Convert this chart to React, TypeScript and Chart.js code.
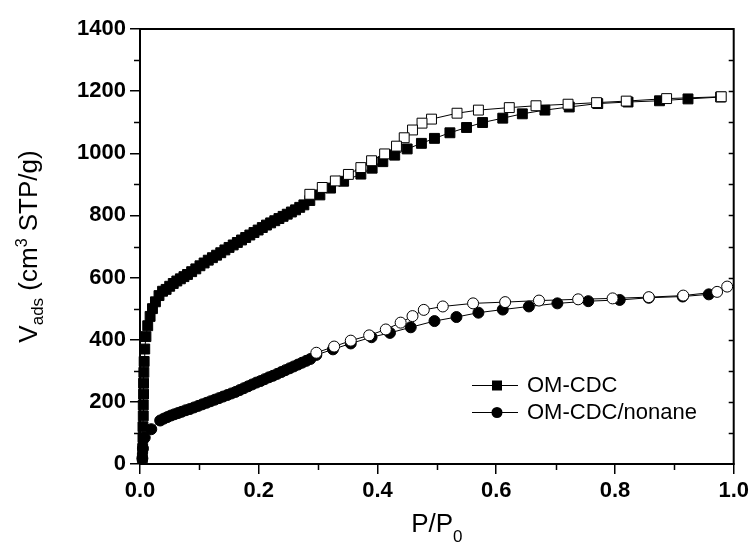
import React, { useEffect, useRef } from "react";
import { Chart, registerables } from "chart.js";

Chart.register(...registerables);

// ---- data (P/P0 and adsorbed volume, cm3 STP/g) ----
const omcdcAdsP = [0.004, 0.0045, 0.005, 0.005, 0.0055, 0.0055, 0.006, 0.006, 0.0065, 0.007, 0.008, 0.010, 0.013, 0.017, 0.021, 0.026, 0.032, 0.038, 0.044, 0.050, 0.056, 0.062, 0.068, 0.074, 0.080, 0.087, 0.094, 0.101, 0.108, 0.115, 0.122, 0.129, 0.136, 0.143, 0.150, 0.157, 0.164, 0.171, 0.178, 0.185, 0.192, 0.199, 0.206, 0.213, 0.220, 0.227, 0.234, 0.241, 0.248, 0.255, 0.262, 0.269, 0.276, 0.286, 0.303, 0.321, 0.343, 0.372, 0.391, 0.409, 0.429, 0.450, 0.474, 0.496, 0.522, 0.550, 0.577, 0.611, 0.644, 0.682, 0.723, 0.771, 0.822, 0.875, 0.923, 0.978];
const omcdcAdsV = [20, 50, 85, 120, 155, 190, 225, 260, 295, 330, 370, 410, 445, 475, 500, 522, 542, 556, 562, 572, 581, 589, 596, 603, 610, 619, 628, 638, 647, 656, 664, 672, 680, 689, 697, 705, 713, 721, 729, 737, 745, 753, 761, 769, 776, 783, 790, 797, 804, 811, 818, 826, 834, 848, 866, 888, 910, 933, 952, 973, 994, 1014, 1032, 1048, 1066, 1083, 1099, 1113, 1127, 1139, 1149, 1160, 1165, 1169, 1175, 1181];

const omcdcDesP = [0.979, 0.887, 0.819, 0.769, 0.721, 0.667, 0.622, 0.570, 0.534, 0.491, 0.475, 0.459, 0.445, 0.432, 0.412, 0.390, 0.372, 0.351, 0.329, 0.307, 0.286];
const omcdcDesV = [1182, 1176, 1168, 1163, 1158, 1153, 1147, 1139, 1129, 1110, 1097, 1075, 1050, 1023, 998, 976, 954, 932, 911, 890, 868];

const nonaneAdsP = [0.004, 0.005, 0.008, 0.019, 0.034, 0.040, 0.046, 0.052, 0.058, 0.064, 0.070, 0.077, 0.084, 0.091, 0.098, 0.105, 0.112, 0.119, 0.126, 0.133, 0.140, 0.147, 0.154, 0.161, 0.168, 0.175, 0.182, 0.189, 0.196, 0.203, 0.210, 0.217, 0.224, 0.231, 0.238, 0.245, 0.252, 0.259, 0.266, 0.273, 0.280, 0.287, 0.297, 0.325, 0.355, 0.390, 0.421, 0.456, 0.496, 0.533, 0.570, 0.611, 0.655, 0.703, 0.755, 0.808, 0.857, 0.914, 0.958];
const nonaneAdsV = [18, 50, 85, 112, 140, 146, 151, 156, 160, 164, 168, 173, 177, 182, 187, 192, 197, 202, 207, 212, 217, 222, 227, 232, 238, 244, 250, 256, 262, 267, 273, 279, 284, 290, 296, 302, 308, 314, 320, 326, 332, 338, 351, 369, 388, 408, 422, 440, 460, 473, 487, 497, 507, 517, 524, 528, 535, 539, 546];

const nonaneDesP = [0.989, 0.972, 0.915, 0.857, 0.796, 0.738, 0.672, 0.615, 0.561, 0.510, 0.478, 0.459, 0.439, 0.414, 0.386, 0.355, 0.327, 0.297];
const nonaneDesV = [571, 554, 542, 537, 533, 530, 526, 521, 517, 507, 496, 476, 455, 433, 414, 397, 378, 358];

const xMajorStep = 0.2;
const yMajorStep = 200;
const xMinorTicks = [0.1, 0.3, 0.5, 0.7, 0.9];
const yMinorTicks = [100, 300, 500, 700, 900, 1100, 1300];
const yRightTicks = [100, 200, 300, 400, 500, 600, 700, 800, 900, 1000, 1100, 1200, 1300];

const legendLabels = ["OM-CDC", "OM-CDC/nonane"];

const FONT = '"Liberation Sans", Arial, Helvetica, sans-serif';

const zip = (xs: number[], ys: number[]) => xs.map((x, i) => ({ x, y: ys[i] }));

type Seg = { t: string; size: number; dy: number };

function drawSegs(ctx: CanvasRenderingContext2D, segs: Seg[], cx: number, baseY: number) {
  let total = 0;
  for (const s of segs) {
    ctx.font = `${s.size}px ${FONT}`;
    total += ctx.measureText(s.t).width;
  }
  let x = cx - total / 2;
  ctx.textAlign = "left";
  ctx.textBaseline = "alphabetic";
  for (const s of segs) {
    ctx.font = `${s.size}px ${FONT}`;
    ctx.fillText(s.t, x, baseY + s.dy);
    x += ctx.measureText(s.t).width;
  }
}

const decorPlugin = {
  id: "decor",
  afterDraw(chart: any) {
    const { ctx, chartArea: a, scales } = chart;
    const xs = scales.x;
    const ys = scales.y;
    ctx.save();
    ctx.strokeStyle = "#000";
    ctx.fillStyle = "#000";
    // top and right frame
    ctx.lineWidth = 2;
    ctx.beginPath();
    ctx.moveTo(a.left - 1, a.top);
    ctx.lineTo(a.right, a.top);
    ctx.lineTo(a.right, a.bottom + 1);
    ctx.stroke();
    // minor ticks
    ctx.lineWidth = 1.5;
    ctx.beginPath();
    for (const v of xMinorTicks) {
      const px = Math.round(xs.getPixelForValue(v)) + 0.5;
      ctx.moveTo(px, a.bottom);
      ctx.lineTo(px, a.bottom + 6);
    }
    for (const v of yMinorTicks) {
      const py = Math.round(ys.getPixelForValue(v)) + 0.5;
      ctx.moveTo(a.left, py);
      ctx.lineTo(a.left - 6, py);
    }
    for (const v of yRightTicks) {
      const py = Math.round(ys.getPixelForValue(v)) + 0.5;
      ctx.moveTo(a.right, py);
      ctx.lineTo(a.right - 5, py);
    }
    ctx.stroke();

    // x title: P/P0
    drawSegs(ctx, [
      { t: "P/P", size: 26, dy: 0 },
      { t: "0", size: 17, dy: 10 },
    ], (a.left + a.right) / 2, 532);

    // y title
    ctx.save();
    ctx.translate(27, (a.top + a.bottom) / 2);
    ctx.rotate(-Math.PI / 2);
    drawSegs(ctx, [
      { t: "V", size: 26, dy: 0 },
      { t: "ads", size: 17, dy: 6 },
      { t: " (cm", size: 26, dy: 0 },
      { t: "3", size: 16, dy: -10 },
      { t: " STP/g)", size: 26, dy: 0 },
    ], 0, 10);
    ctx.restore();

    // legend
    const lx0 = 472, lx1 = 518, mx = 497, tx = 527;
    const rows = [385, 412];
    ctx.lineWidth = 1;
    rows.forEach((ry, i) => {
      ctx.beginPath();
      ctx.moveTo(lx0, ry + 0.5);
      ctx.lineTo(lx1, ry + 0.5);
      ctx.stroke();
      if (i === 0) {
        ctx.fillRect(mx - 5, ry - 4.5, 10, 10);
      } else {
        ctx.beginPath();
        ctx.arc(mx, ry + 0.5, 5.5, 0, Math.PI * 2);
        ctx.fill();
      }
      ctx.font = `22px ${FONT}`;
      ctx.textAlign = "left";
      ctx.textBaseline = "middle";
      ctx.fillText(legendLabels[i], tx, ry + 1);
    });
    ctx.restore();
  },
};

export default function App() {
  const ref = useRef<HTMLCanvasElement>(null);
  useEffect(() => {
    document.body.style.margin = "0";
    const common = {
      showLine: true,
      borderColor: "#000",
      borderWidth: 1,
      pointBorderColor: "#000",
      pointBorderWidth: 1,
      tension: 0,
      clip: false as any,
    };
    const chart = new Chart(ref.current as HTMLCanvasElement, {
      type: "scatter",
      data: {
        datasets: [
          { ...common, label: "OM-CDC desorption", data: zip(omcdcDesP, omcdcDesV), pointStyle: "rect", pointRadius: 7, pointBackgroundColor: "#fff", order: 0 },
          { ...common, label: "OM-CDC/nonane desorption", data: zip(nonaneDesP, nonaneDesV), pointStyle: "circle", pointRadius: 5.5, pointBackgroundColor: "#fff", order: 0 },
          { ...common, label: legendLabels[0], data: zip(omcdcAdsP, omcdcAdsV), pointStyle: "rect", pointRadius: 7, pointBackgroundColor: "#000", order: 1 },
          { ...common, label: legendLabels[1], data: zip(nonaneAdsP, nonaneAdsV), pointStyle: "circle", pointRadius: 5.5, pointBackgroundColor: "#000", order: 1 },
        ] as any,
      },
      options: {
        responsive: false,
        animation: false,
        devicePixelRatio: 1,
        layout: { padding: { top: 29, right: 19, left: 0, bottom: 0 } },
        plugins: { legend: { display: false }, tooltip: { enabled: false } },
        scales: {
          x: {
            type: "linear",
            min: 0,
            max: 1,
            afterFit: (s: any) => { s.height = 84; },
            ticks: {
              stepSize: xMajorStep,
              callback: (v: any) => Number(v).toFixed(1),
              color: "#000",
              font: { family: FONT, size: 22, weight: "bold" },
              padding: 4,
              maxRotation: 0,
            },
            grid: { drawOnChartArea: false, color: "#000", lineWidth: 1.5, tickLength: 10 },
            border: { color: "#000", width: 2 },
          },
          y: {
            type: "linear",
            min: 0,
            max: 1400,
            afterFit: (s: any) => { s.width = 140; },
            ticks: {
              stepSize: yMajorStep,
              callback: (v: any) => String(Math.round(Number(v))),
              color: "#000",
              font: { family: FONT, size: 22, weight: "bold" },
              padding: 4,
            },
            grid: { drawOnChartArea: false, color: "#000", lineWidth: 1.5, tickLength: 10 },
            border: { color: "#000", width: 2 },
          },
        },
      },
      plugins: [decorPlugin],
    });
    return () => chart.destroy();
  }, []);
  return (
    <div style={{ width: 753, height: 548, position: "relative" }}>
      <canvas ref={ref} width={753} height={548} style={{ display: "block" }} />
    </div>
  );
}
